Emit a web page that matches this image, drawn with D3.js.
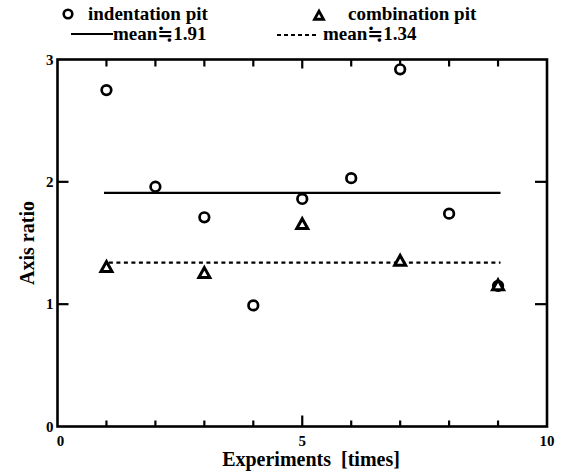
<!DOCTYPE html>
<html>
<head>
<meta charset="utf-8">
<script src="https://cdn.jsdelivr.net/npm/d3@7"></script>
<style>
  html, body { margin: 0; padding: 0; background: #fff; }
  svg { display: block; }
</style>
</head>
<body>
<svg id="chart" width="562" height="472"></svg>
<script>
// Axis ratio of pits per experiment run
const experiments = [1, 2, 3, 4, 5, 6, 7, 8, 9];
const indentationRatio = [2.75, 1.96, 1.71, 0.99, 1.86, 2.03, 2.92, 1.74, 1.15];
const combinationRuns = [1, 3, 5, 7, 9];
const combinationRatio = [1.30, 1.25, 1.65, 1.35, 1.15];
const indentationMean = 1.91;
const combinationMean = 1.34;
const xTickLabels = [0, 5, 10];
const yTickLabels = [0, 1, 2, 3];

const serif = "'Liberation Serif', 'Times New Roman', Times, 'DejaVu Serif', serif";
const svg = d3.select("#chart")
  .attr("font-family", serif)
  .attr("font-weight", "bold")
  .style("font-family", serif);
const plotLeft = 57.5, plotRight = 547, plotTop = 59.5, plotBottom = 426.5;

const x = d3.scaleLinear().domain([0, 10]).range([plotLeft, plotRight]);
const y = d3.scaleLinear().domain([0, 3]).range([plotBottom, plotTop]);

const ink = "#000";

// Inward-pointing ticks on all four sides
const xMinor = d3.range(1, 10);
svg.append("g").selectAll("line").data(xMinor).join("line")
  .attr("x1", d => x(d)).attr("x2", d => x(d))
  .attr("y1", plotBottom).attr("y2", d => plotBottom - (d === 5 ? 11 : 6))
  .attr("stroke", ink).attr("stroke-width", 2.2);
svg.append("g").selectAll("line").data(xMinor).join("line")
  .attr("x1", d => x(d)).attr("x2", d => x(d))
  .attr("y1", plotTop).attr("y2", d => plotTop + (d === 5 ? 9 : 7))
  .attr("stroke", ink).attr("stroke-width", 2.2);
const yInner = [1, 2];
svg.append("g").selectAll("line").data(yInner).join("line")
  .attr("x1", plotLeft).attr("x2", plotLeft + 11)
  .attr("y1", d => y(d)).attr("y2", d => y(d))
  .attr("stroke", ink).attr("stroke-width", 2.2);
svg.append("g").selectAll("line").data(yInner).join("line")
  .attr("x1", plotRight).attr("x2", plotRight - 12)
  .attr("y1", d => y(d)).attr("y2", d => y(d))
  .attr("stroke", ink).attr("stroke-width", 2.2);

// Frame
svg.append("rect")
  .attr("x", plotLeft).attr("y", plotTop)
  .attr("width", plotRight - plotLeft).attr("height", plotBottom - plotTop)
  .attr("fill", "none").attr("stroke", ink).attr("stroke-width", 2.6);

// Tick labels
svg.append("g").selectAll("text").data(yTickLabels).join("text")
  .attr("x", plotLeft - 4).attr("y", d => y(d) + 5)
  .attr("text-anchor", "end").attr("font-size", 15)
  .text(d => d);
svg.append("g").selectAll("text").data(xTickLabels).join("text")
  .attr("x", d => x(d) + (d === 0 ? 3 : 0)).attr("y", plotBottom + 19)
  .attr("text-anchor", "middle").attr("font-size", 15)
  .text(d => d);

// Axis titles
svg.append("text")
  .attr("x", 311).attr("y", 466)
  .attr("text-anchor", "middle").attr("font-size", 20)
  .attr("xml:space", "preserve")
  .text("Experiments  [times]");
svg.append("text")
  .attr("transform", `translate(34, ${y(1.5)}) rotate(-90)`)
  .attr("text-anchor", "middle").attr("font-size", 20)
  .text("Axis ratio");

// Mean lines
svg.append("line")
  .attr("x1", x(0.95)).attr("x2", x(9.05))
  .attr("y1", y(indentationMean)).attr("y2", y(indentationMean))
  .attr("stroke", ink).attr("stroke-width", 2.4);
svg.append("line")
  .attr("x1", x(1.05)).attr("x2", x(9.05))
  .attr("y1", y(combinationMean)).attr("y2", y(combinationMean))
  .attr("stroke", ink).attr("stroke-width", 2.2)
  .attr("stroke-dasharray", "4,3.5");

// Marker shapes
const triPath = (cx, cy, s) => {
  const h = s * 0.9;
  return `M${cx},${cy - h * 0.6}L${cx + s / 2},${cy + h * 0.4}L${cx - s / 2},${cy + h * 0.4}Z`;
};

// Indentation pits (open circles)
svg.append("g").selectAll("circle")
  .data(experiments.map((e, i) => [e, indentationRatio[i]]))
  .join("circle")
  .attr("cx", d => x(d[0])).attr("cy", d => y(d[1]))
  .attr("r", 4.8)
  .attr("fill", "#fff").attr("stroke", ink).attr("stroke-width", 2.7);

// Combination pits (open triangles)
svg.append("g").selectAll("path")
  .data(combinationRuns.map((e, i) => [e, combinationRatio[i]]))
  .join("path")
  .attr("d", d => triPath(x(d[0]), y(d[1]), 11))
  .attr("fill", "#fff").attr("stroke", ink).attr("stroke-width", 3)
  .attr("stroke-linejoin", "miter");

// Legend
const lg = svg.append("g");
lg.append("circle").attr("cx", 68).attr("cy", 14).attr("r", 4.3)
  .attr("fill", "#fff").attr("stroke", ink).attr("stroke-width", 2.6);
lg.append("text").attr("x", 88).attr("y", 20).attr("font-size", 19).text("indentation pit");
lg.append("path").attr("d", triPath(319, 16, 9))
  .attr("fill", "#fff").attr("stroke", ink).attr("stroke-width", 2.8);
lg.append("text").attr("x", 348).attr("y", 20).attr("font-size", 19).text("combination pit");

lg.append("line").attr("x1", 71).attr("x2", 113).attr("y1", 34).attr("y2", 34)
  .attr("stroke", ink).attr("stroke-width", 2.2);
lg.append("text").attr("x", 113).attr("y", 40).attr("font-size", 19).text("mean\u22521.91");
lg.append("line").attr("x1", 277).attr("x2", 317).attr("y1", 35).attr("y2", 35)
  .attr("stroke", ink).attr("stroke-width", 2)
  .attr("stroke-dasharray", "4,3");
lg.append("text").attr("x", 323).attr("y", 40).attr("font-size", 19).text("mean\u22521.34");
</script>
</body>
</html>
